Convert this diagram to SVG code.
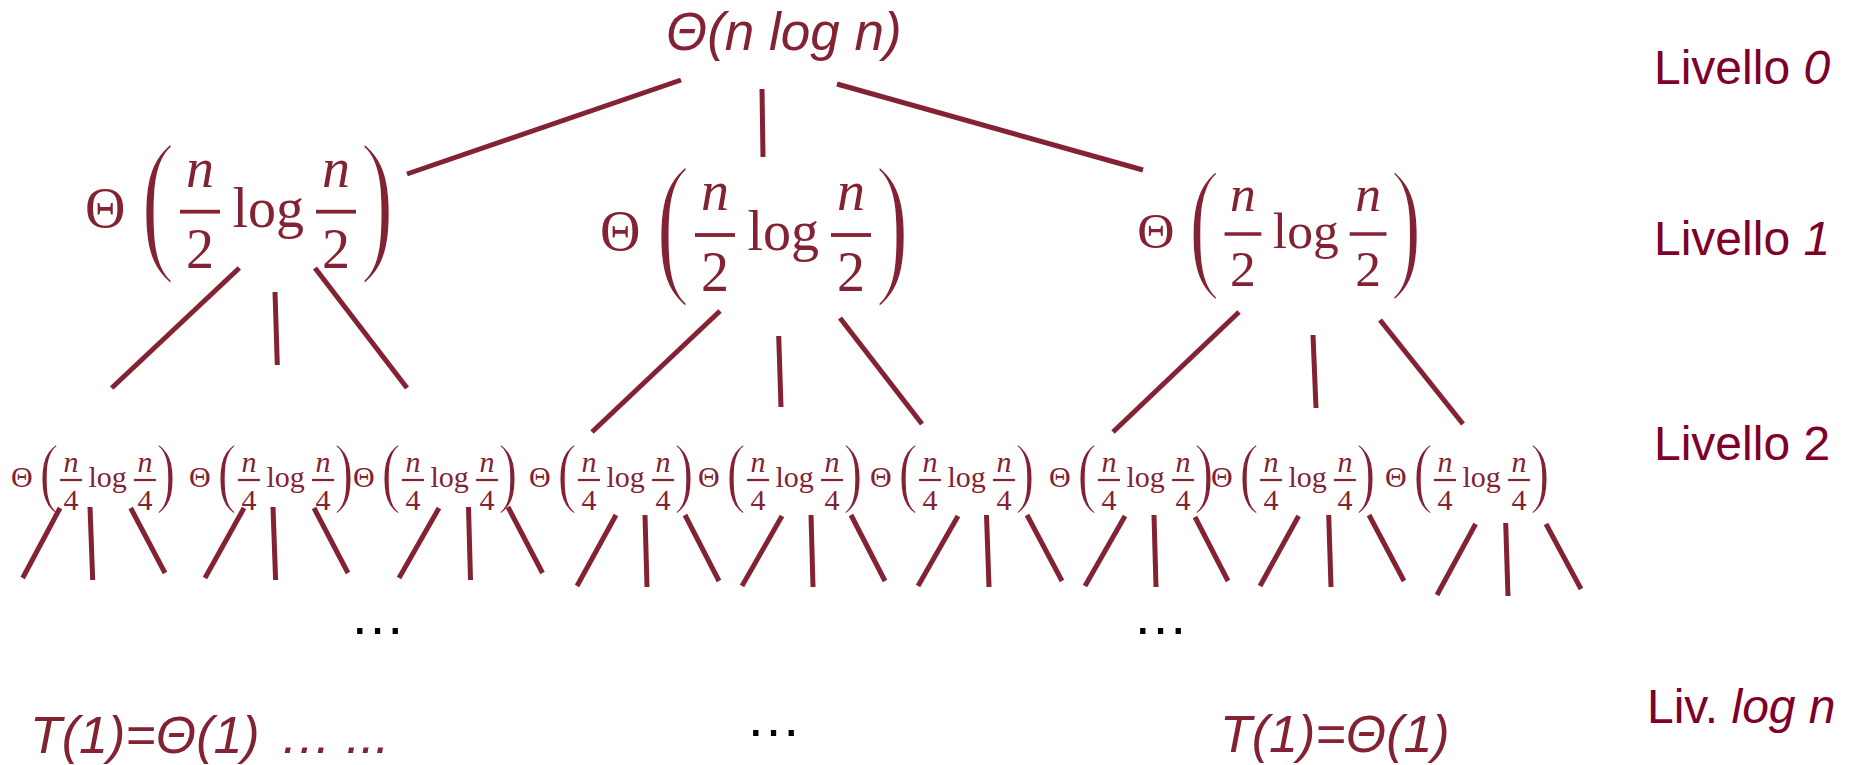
<svg xmlns="http://www.w3.org/2000/svg" width="1850" height="765" viewBox="0 0 1850 765">
<style>
.m{font-family:"Liberation Serif","Times New Roman",serif;fill:#832232}
.s{font-family:"Liberation Sans",Arial,sans-serif}
.i{font-style:italic}
.t56{font-size:56px}
.t30{font-size:30px}
.mid{text-anchor:middle}
.bar{fill:#832232}
.p1{stroke:#fff;stroke-width:1.35}
.p2{stroke:#fff;stroke-width:0.6}
.lv{font-family:"Liberation Sans",Arial,sans-serif;font-size:48px;fill:#7F0029}
.red{fill:#832232}
.dots{font-family:"Liberation Sans",Arial,sans-serif;font-size:56px;fill:#000;text-anchor:middle}
.c line{stroke:#832232;stroke-width:5;stroke-linecap:butt}
</style>
<rect width="1850" height="765" fill="#fff"/>

<g id="root">
<text class="s i red" x="666" y="50" font-size="53">Θ(n log n)</text>
</g>

<g id="n1-left" transform="translate(87,211.7)">
<text class="m t56" x="-2" y="15.3">Θ</text>
<text class="m t56 p1" transform="translate(53.5,40.1) scale(1.853,2.845)">(</text>
<text class="m t56 i mid" x="113" y="-24.7">n</text>
<rect class="bar" x="93" y="-1.9" width="40" height="3.8"/>
<text class="m t56 mid" x="113" y="56.3">2</text>
<text class="m t56" x="145.5" y="15.3">log</text>
<text class="m t56 i mid" x="249" y="-24.7">n</text>
<rect class="bar" x="229" y="-1.9" width="40" height="3.8"/>
<text class="m t56 mid" x="249" y="56.3">2</text>
<text class="m t56 p1" transform="translate(273,40.1) scale(1.853,2.845)">)</text>
</g>

<g id="n1-mid" transform="translate(602,235)">
<text class="m t56" x="-2" y="15.3">Θ</text>
<text class="m t56 p1" transform="translate(53.5,40.1) scale(1.853,2.845)">(</text>
<text class="m t56 i mid" x="113" y="-24.7">n</text>
<rect class="bar" x="93" y="-1.9" width="40" height="3.8"/>
<text class="m t56 mid" x="113" y="56.3">2</text>
<text class="m t56" x="145.5" y="15.3">log</text>
<text class="m t56 i mid" x="249" y="-24.7">n</text>
<rect class="bar" x="229" y="-1.9" width="40" height="3.8"/>
<text class="m t56 mid" x="249" y="56.3">2</text>
<text class="m t56 p1" transform="translate(273,40.1) scale(1.853,2.845)">)</text>
</g>

<g id="n1-right" transform="translate(1139,234) scale(0.92)">
<text class="m t56" x="-2" y="15.3">Θ</text>
<text class="m t56 p1" transform="translate(53.5,40.1) scale(1.853,2.845)">(</text>
<text class="m t56 i mid" x="113" y="-24.7">n</text>
<rect class="bar" x="93" y="-1.9" width="40" height="3.8"/>
<text class="m t56 mid" x="113" y="56.3">2</text>
<text class="m t56" x="145.5" y="15.3">log</text>
<text class="m t56 i mid" x="249" y="-24.7">n</text>
<rect class="bar" x="229" y="-1.9" width="40" height="3.8"/>
<text class="m t56 mid" x="249" y="56.3">2</text>
<text class="m t56 p1" transform="translate(273,40.1) scale(1.853,2.845)">)</text>
</g>

<g id="n2-a" transform="translate(12,480)">
<text class="m t30" x="-1" y="7">Θ</text>
<text class="m t30 p2" transform="translate(27.2,18.1) scale(1.95,2.62)">(</text>
<text class="m t30 i mid" x="59" y="-8">n</text>
<rect class="bar" x="48" y="-1.1" width="22" height="2.2"/>
<text class="m t30 mid" x="59" y="30">4</text>
<text class="m t30" x="76.5" y="7">log</text>
<text class="m t30 i mid" x="133" y="-8">n</text>
<rect class="bar" x="122" y="-1.1" width="22" height="2.2"/>
<text class="m t30 mid" x="133" y="30">4</text>
<text class="m t30 p2" transform="translate(144.3,18.1) scale(1.95,2.62)">)</text>
</g>
<g id="n2-b" transform="translate(190,480)">
<text class="m t30" x="-1" y="7">Θ</text>
<text class="m t30 p2" transform="translate(27.2,18.1) scale(1.95,2.62)">(</text>
<text class="m t30 i mid" x="59" y="-8">n</text>
<rect class="bar" x="48" y="-1.1" width="22" height="2.2"/>
<text class="m t30 mid" x="59" y="30">4</text>
<text class="m t30" x="76.5" y="7">log</text>
<text class="m t30 i mid" x="133" y="-8">n</text>
<rect class="bar" x="122" y="-1.1" width="22" height="2.2"/>
<text class="m t30 mid" x="133" y="30">4</text>
<text class="m t30 p2" transform="translate(144.3,18.1) scale(1.95,2.62)">)</text>
</g>
<g id="n2-c" transform="translate(354,480)">
<text class="m t30" x="-1" y="7">Θ</text>
<text class="m t30 p2" transform="translate(27.2,18.1) scale(1.95,2.62)">(</text>
<text class="m t30 i mid" x="59" y="-8">n</text>
<rect class="bar" x="48" y="-1.1" width="22" height="2.2"/>
<text class="m t30 mid" x="59" y="30">4</text>
<text class="m t30" x="76.5" y="7">log</text>
<text class="m t30 i mid" x="133" y="-8">n</text>
<rect class="bar" x="122" y="-1.1" width="22" height="2.2"/>
<text class="m t30 mid" x="133" y="30">4</text>
<text class="m t30 p2" transform="translate(144.3,18.1) scale(1.95,2.62)">)</text>
</g>
<g id="n2-d" transform="translate(530,480)">
<text class="m t30" x="-1" y="7">Θ</text>
<text class="m t30 p2" transform="translate(27.2,18.1) scale(1.95,2.62)">(</text>
<text class="m t30 i mid" x="59" y="-8">n</text>
<rect class="bar" x="48" y="-1.1" width="22" height="2.2"/>
<text class="m t30 mid" x="59" y="30">4</text>
<text class="m t30" x="76.5" y="7">log</text>
<text class="m t30 i mid" x="133" y="-8">n</text>
<rect class="bar" x="122" y="-1.1" width="22" height="2.2"/>
<text class="m t30 mid" x="133" y="30">4</text>
<text class="m t30 p2" transform="translate(144.3,18.1) scale(1.95,2.62)">)</text>
</g>
<g id="n2-e" transform="translate(699,480)">
<text class="m t30" x="-1" y="7">Θ</text>
<text class="m t30 p2" transform="translate(27.2,18.1) scale(1.95,2.62)">(</text>
<text class="m t30 i mid" x="59" y="-8">n</text>
<rect class="bar" x="48" y="-1.1" width="22" height="2.2"/>
<text class="m t30 mid" x="59" y="30">4</text>
<text class="m t30" x="76.5" y="7">log</text>
<text class="m t30 i mid" x="133" y="-8">n</text>
<rect class="bar" x="122" y="-1.1" width="22" height="2.2"/>
<text class="m t30 mid" x="133" y="30">4</text>
<text class="m t30 p2" transform="translate(144.3,18.1) scale(1.95,2.62)">)</text>
</g>
<g id="n2-f" transform="translate(871,480)">
<text class="m t30" x="-1" y="7">Θ</text>
<text class="m t30 p2" transform="translate(27.2,18.1) scale(1.95,2.62)">(</text>
<text class="m t30 i mid" x="59" y="-8">n</text>
<rect class="bar" x="48" y="-1.1" width="22" height="2.2"/>
<text class="m t30 mid" x="59" y="30">4</text>
<text class="m t30" x="76.5" y="7">log</text>
<text class="m t30 i mid" x="133" y="-8">n</text>
<rect class="bar" x="122" y="-1.1" width="22" height="2.2"/>
<text class="m t30 mid" x="133" y="30">4</text>
<text class="m t30 p2" transform="translate(144.3,18.1) scale(1.95,2.62)">)</text>
</g>
<g id="n2-g" transform="translate(1050,480)">
<text class="m t30" x="-1" y="7">Θ</text>
<text class="m t30 p2" transform="translate(27.2,18.1) scale(1.95,2.62)">(</text>
<text class="m t30 i mid" x="59" y="-8">n</text>
<rect class="bar" x="48" y="-1.1" width="22" height="2.2"/>
<text class="m t30 mid" x="59" y="30">4</text>
<text class="m t30" x="76.5" y="7">log</text>
<text class="m t30 i mid" x="133" y="-8">n</text>
<rect class="bar" x="122" y="-1.1" width="22" height="2.2"/>
<text class="m t30 mid" x="133" y="30">4</text>
<text class="m t30 p2" transform="translate(144.3,18.1) scale(1.95,2.62)">)</text>
</g>
<g id="n2-h" transform="translate(1212,480)">
<text class="m t30" x="-1" y="7">Θ</text>
<text class="m t30 p2" transform="translate(27.2,18.1) scale(1.95,2.62)">(</text>
<text class="m t30 i mid" x="59" y="-8">n</text>
<rect class="bar" x="48" y="-1.1" width="22" height="2.2"/>
<text class="m t30 mid" x="59" y="30">4</text>
<text class="m t30" x="76.5" y="7">log</text>
<text class="m t30 i mid" x="133" y="-8">n</text>
<rect class="bar" x="122" y="-1.1" width="22" height="2.2"/>
<text class="m t30 mid" x="133" y="30">4</text>
<text class="m t30 p2" transform="translate(144.3,18.1) scale(1.95,2.62)">)</text>
</g>
<g id="n2-i" transform="translate(1386,480)">
<text class="m t30" x="-1" y="7">Θ</text>
<text class="m t30 p2" transform="translate(27.2,18.1) scale(1.95,2.62)">(</text>
<text class="m t30 i mid" x="59" y="-8">n</text>
<rect class="bar" x="48" y="-1.1" width="22" height="2.2"/>
<text class="m t30 mid" x="59" y="30">4</text>
<text class="m t30" x="76.5" y="7">log</text>
<text class="m t30 i mid" x="133" y="-8">n</text>
<rect class="bar" x="122" y="-1.1" width="22" height="2.2"/>
<text class="m t30 mid" x="133" y="30">4</text>
<text class="m t30 p2" transform="translate(144.3,18.1) scale(1.95,2.62)">)</text>
</g>

<g id="leaves">
<text class="s i red" x="30" y="753" font-size="52">T(1)=Θ(1)<tspan x="280">…</tspan><tspan x="346">...</tspan></text>
<text class="s i red" x="1220" y="752" font-size="52">T(1)=Θ(1)</text>
</g>

<g id="ellipses">
<text class="dots" x="377.5" y="634">…</text>
<text class="dots" x="1160.5" y="634">…</text>
<text class="dots" x="773.5" y="736">…</text>
</g>

<g id="levels">
<text class="lv" x="1654" y="84">Livello <tspan font-style="italic">0</tspan></text>
<text class="lv" x="1654" y="255">Livello <tspan font-style="italic">1</tspan></text>
<text class="lv" x="1654" y="460">Livello 2</text>
<text class="lv" x="1647" y="723">Liv. <tspan font-style="italic">log n</tspan></text>
</g>

<g id="connectors" class="c">
<line x1="681" y1="80" x2="407" y2="174"/>
<line x1="762" y1="89" x2="763" y2="157"/>
<line x1="837" y1="84" x2="1143" y2="170"/>

<line x1="239.3" y1="268" x2="111.7" y2="388"/>
<line x1="275" y1="292" x2="277.3" y2="365"/>
<line x1="315" y1="268" x2="407" y2="388"/>
<line x1="720" y1="311" x2="592" y2="432"/>
<line x1="778.7" y1="336" x2="781" y2="407"/>
<line x1="840" y1="318" x2="922" y2="424"/>
<line x1="1239" y1="312" x2="1113" y2="432"/>
<line x1="1313" y1="335" x2="1316" y2="408"/>
<line x1="1380" y1="320" x2="1463" y2="424"/>

<line x1="60" y1="508" x2="22.7" y2="578"/>
<line x1="90" y1="507" x2="92.7" y2="580"/>
<line x1="130.7" y1="508" x2="165" y2="573"/>
<line x1="244" y1="508" x2="205" y2="578"/>
<line x1="273" y1="507" x2="275.6" y2="580"/>
<line x1="314" y1="508" x2="348" y2="573"/>
<line x1="439" y1="508" x2="399" y2="578"/>
<line x1="468.5" y1="507" x2="470.5" y2="580"/>
<line x1="508" y1="507" x2="542.5" y2="573"/>
<line x1="616" y1="515" x2="577" y2="586"/>
<line x1="645" y1="515" x2="647" y2="587"/>
<line x1="685" y1="515" x2="719" y2="581"/>
<line x1="782" y1="516" x2="742" y2="586"/>
<line x1="811" y1="515" x2="813" y2="587"/>
<line x1="851" y1="515" x2="885" y2="581"/>
<line x1="958" y1="516" x2="918" y2="586"/>
<line x1="986.5" y1="515" x2="989" y2="587"/>
<line x1="1027" y1="515" x2="1062" y2="581"/>
<line x1="1125" y1="516" x2="1085" y2="586"/>
<line x1="1154" y1="515" x2="1156" y2="587"/>
<line x1="1195" y1="517" x2="1228" y2="581"/>
<line x1="1298.6" y1="516" x2="1260" y2="586"/>
<line x1="1328.7" y1="515" x2="1331" y2="587"/>
<line x1="1369" y1="515" x2="1404" y2="581"/>
<line x1="1475.6" y1="524" x2="1437" y2="595"/>
<line x1="1505.7" y1="523" x2="1508" y2="596"/>
<line x1="1546" y1="524" x2="1581" y2="589"/>
</g>
</svg>
